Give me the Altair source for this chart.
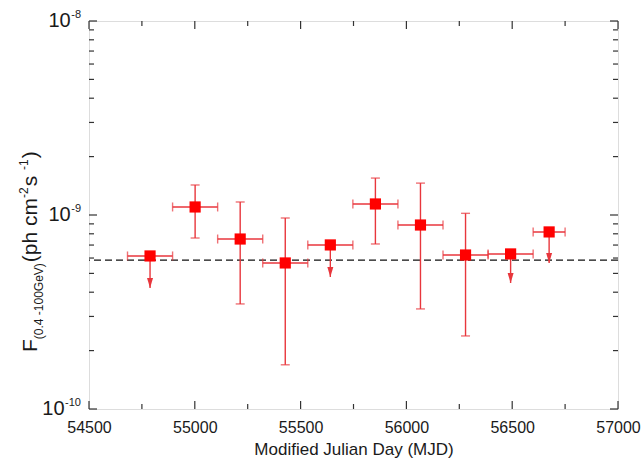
import altair as alt
import pandas as pd

# ---------------- data ----------------
# detections (with y error bars)
det_mjd = [55001.5, 55214.5, 55427.5, 55853.5, 56066.5, 56279.5]
det_mjd_lo = [54895, 55108, 55321, 55747, 55960, 56173]
det_mjd_hi = [55108, 55321, 55534, 55960, 56173, 56386]
det_flux = [1.10e-9, 7.52e-10, 5.66e-10, 1.14e-9, 8.88e-10, 6.22e-10]
det_flux_lo = [7.61e-10, 3.48e-10, 1.69e-10, 7.09e-10, 3.28e-10, 2.38e-10]
det_flux_hi = [1.428e-9, 1.167e-9, 9.65e-10, 1.55e-9, 1.46e-9, 1.02e-9]

# upper limits (arrows)
ul_mjd = [54788.5, 55640.5, 56492.5, 56674.5]
ul_mjd_lo = [54682, 55534, 56386, 56599]
ul_mjd_hi = [54895, 55747, 56599, 56750]
ul_flux = [6.15e-10, 7.01e-10, 6.30e-10, 8.18e-10]
ul_arrow_tip = [4.21e-10, 4.79e-10, 4.46e-10, 5.66e-10]

baseline_flux = [5.86e-10]

x_major = [54500, 55000, 55500, 56000, 56500, 57000]
x_minor = [54750, 55250, 55750, 56250, 56750]
y_major = [1e-10, 1e-9, 1e-8]
y_minor = [2e-10, 3e-10, 4e-10, 5e-10, 6e-10, 7e-10, 8e-10, 9e-10,
           2e-9, 3e-9, 4e-9, 5e-9, 6e-9, 7e-9, 8e-9, 9e-9]
y_label_vals = [1e-8, 1e-9, 1e-10]
y_label_exp = ["-8", "-9", "-10"]

# ---------------- layout / style ----------------
W, H = 529, 388
FONT = "Liberation Sans"
TXT = "#1a1a1a"
ERR = "#e8363c"
PT = "#ff0000"

xs = alt.Scale(domain=[54500, 57000], nice=False, zero=False)
ys = alt.Scale(type="log", domain=[1e-10, 1e-8], nice=False)

xax = alt.Axis(values=x_major, format="d", labelFontSize=16, labelFont=FONT,
               labelColor=TXT, labelPadding=10, ticks=False, domain=False,
               grid=False, title="Modified Julian Day (MJD)", titleFont=FONT,
               titleFontSize=17, titleFontWeight="normal", titleColor=TXT,
               titlePadding=6, labelFlush=False)

det = pd.DataFrame({"x": det_mjd, "xlo": det_mjd_lo, "xhi": det_mjd_hi,
                    "y": det_flux, "ylo": det_flux_lo, "yhi": det_flux_hi})
ul = pd.DataFrame({"x": ul_mjd, "xlo": ul_mjd_lo, "xhi": ul_mjd_hi,
                   "y": ul_flux, "tip": ul_arrow_tip})
pts = pd.concat([det[["x", "xlo", "xhi", "y"]], ul[["x", "xlo", "xhi", "y"]]])

X = lambda f: alt.X(f, scale=xs, axis=xax)
Y = lambda f: alt.Y(f, scale=ys, axis=None)

layers = []

# dashed reference line
layers.append(alt.Chart(pd.DataFrame({"f": baseline_flux})).mark_rule(
    color="#111", strokeWidth=1.3, strokeDash=[7, 4]).encode(y=Y("f:Q")))

# x error bars + caps
layers.append(alt.Chart(pts).mark_rule(color=ERR, strokeWidth=1.4).encode(
    x=X("xlo:Q"), x2="xhi:Q", y=Y("y:Q")))
for f in ["xlo:Q", "xhi:Q"]:
    layers.append(alt.Chart(pts).mark_tick(color=ERR, orient="vertical", size=9,
                                           thickness=1.4).encode(x=X(f), y=Y("y:Q")))
# y error bars + caps
layers.append(alt.Chart(det).mark_rule(color=ERR, strokeWidth=1.4).encode(
    x=X("x:Q"), y=Y("ylo:Q"), y2="yhi:Q"))
for f in ["ylo:Q", "yhi:Q"]:
    layers.append(alt.Chart(det).mark_tick(color=ERR, orient="horizontal", size=9,
                                           thickness=1.4).encode(x=X("x:Q"), y=Y(f)))
# upper-limit arrows
layers.append(alt.Chart(ul).mark_rule(color=ERR, strokeWidth=1.4).encode(
    x=X("x:Q"), y=Y("y:Q"), y2="tip:Q"))
layers.append(alt.Chart(ul).mark_point(shape="M-0.6,-2L0.6,-2L0,0Z", filled=True,
                                       size=100, color=ERR, opacity=1).encode(
    x=X("x:Q"), y=Y("tip:Q")))

# squares
layers.append(alt.Chart(pts).mark_square(size=125, color=PT, opacity=1).encode(
    x=X("x:Q"), y=Y("y:Q")))

# inward ticks
TK = "#333333"
for vals, ln in [(x_major, 8), (x_minor, 5)]:
    d = pd.DataFrame({"t": vals})
    layers.append(alt.Chart(d).mark_rule(color=TK, strokeWidth=1.2).encode(
        x=X("t:Q"), y=alt.value(H), y2=alt.value(H - ln)))
    layers.append(alt.Chart(d).mark_rule(color=TK, strokeWidth=1.2).encode(
        x=X("t:Q"), y=alt.value(0), y2=alt.value(ln)))
for vals, ln in [(y_major, 8), (y_minor, 5)]:
    d = pd.DataFrame({"t": vals})
    layers.append(alt.Chart(d).mark_rule(color=TK, strokeWidth=1.2).encode(
        y=Y("t:Q"), x=alt.value(0), x2=alt.value(ln)))
    layers.append(alt.Chart(d).mark_rule(color=TK, strokeWidth=1.2).encode(
        y=Y("t:Q"), x=alt.value(W), x2=alt.value(W - ln)))

# y tick labels "10" with superscript exponent
BIG, SMALL = 20, 11
for v, e in zip(y_label_vals, y_label_exp):
    d = pd.DataFrame({"v": [v], "e": [e]})
    ew = (0.333 + 0.556 * (len(e) - 1)) * SMALL
    layers.append(alt.Chart(d).mark_text(align="right", baseline="alphabetic",
                                         fontSize=SMALL, font=FONT, color=TXT, dy=-3).encode(
        y=Y("v:Q"), x=alt.value(-8), text="e:N"))
    layers.append(alt.Chart(d).mark_text(align="right", baseline="middle",
                                         fontSize=BIG, font=FONT, color=TXT, text="10").encode(
        y=Y("v:Q"), x=alt.value(-8 - ew - 0.5)))

# rotated y title with sub/superscripts
WID = {"F": .611, "(": .333, ")": .333, ".": .278, " ": .278, "\u00a0": .278,
       "-": .333, "G": .778, "e": .556, "V": .667, "p": .556, "h": .556,
       "c": .5, "m": .833, "s": .5}
def tw(s, size):
    return sum(WID.get(ch, .556) for ch in s) * size

segments = [("F", 21, 0), ("(0.4\u00a0-100GeV)", 12, 6), ("(ph\u00a0cm", 21, 0),
            ("-2", 12, -9), ("\u00a0s", 21, 0), ("-1", 12, -9), (")", 21, 0)]
ypos = 331
base_x = -52
one = pd.DataFrame({"a": [0]})
for txt, size, dx in segments:
    layers.append(alt.Chart(one).mark_text(text=txt, angle=270, align="left",
                                           baseline="alphabetic", fontSize=size,
                                           font=FONT, color=TXT).encode(
        x=alt.value(base_x + dx), y=alt.value(ypos)))
    ypos -= tw(txt, size) + (1 if size < 20 else 0)

chart = alt.layer(*layers).properties(
    width=W, height=H,
    padding={"left": 89, "top": 21, "right": 26, "bottom": 53},
    autosize=alt.AutoSizeParams(type="none"),
).configure_view(stroke="#333333", strokeWidth=1.5).configure(background="white")

chart.save("out.html", embed_options={"renderer": "svg", "actions": False})
